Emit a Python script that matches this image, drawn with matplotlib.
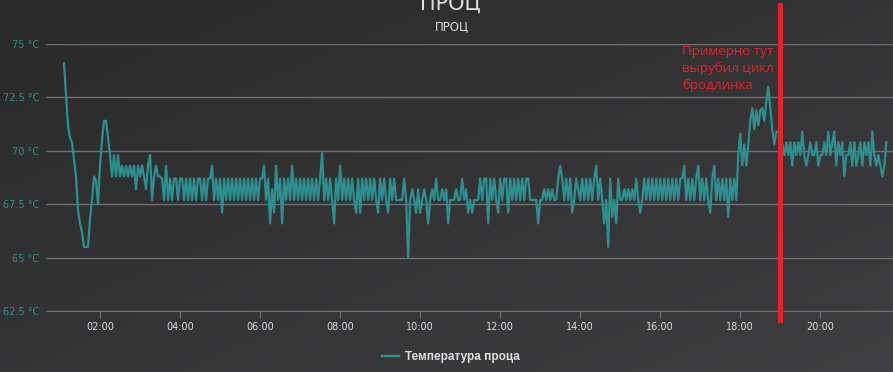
import numpy as np
import matplotlib
matplotlib.use("Agg")
import matplotlib.pyplot as plt
import matplotlib.dates as mdates

# data: CPU temperature, one reading every 3 minutes from 01:06
start_time = np.datetime64("2020-01-01T01:06")
step_min = 3

temps_a = [74.1, 72.6, 71.2, 70.6, 70.4, 69.6, 68.8, 67.2, 66.6, 66.2,
           65.5, 65.5, 65.5, 66.8, 67.7, 68.8, 68.6, 67.5, 69.3, 70.5,
           71.4, 71.4, 70.6, 69.8,
           68.8, 69.8, 68.8, 69.8, 68.8, 69.3, 68.8, 69.3, 68.8, 69.3,
           68.8, 69.3, 68.2, 69.3, 68.8, 69.3, 68.8, 68.2, 69.3, 69.8,
           67.7, 68.8, 69.3, 68.8, 68.8]
temps_b = [68.7, 67.7, 69.3, 67.7, 68.7, 67.7, 68.7, 68.7, 67.7, 68.7,
           68.7, 67.7, 68.7, 67.7, 68.7, 67.7, 68.7, 67.7, 68.7, 68.7,
           67.7, 68.7, 67.7, 68.7, 68.7, 69.3, 67.7, 68.7, 67.7, 68.7,
           67.1, 68.7, 67.7, 68.7, 67.7, 68.7, 67.7, 68.7, 67.7, 68.7,
           67.7, 68.7, 67.7, 68.7, 67.7, 68.7, 67.7, 68.7, 67.7, 68.7,
           68.7, 69.3, 67.7, 68.7, 66.6, 68.2, 67.1, 69.3, 67.7, 68.7,
           66.6, 68.7, 67.7, 68.7, 67.7, 69.3, 67.7, 68.7, 67.7, 68.7]
temps_c = [67.7, 68.7, 67.7, 68.7, 67.7, 68.7, 67.7, 68.7, 67.7, 68.7,
           69.9, 67.7, 68.7, 67.7, 68.7, 67.7, 66.6, 68.7, 67.7, 69.3,
           67.7, 68.7, 67.7, 68.7, 67.7, 68.7, 67.7, 67.1, 68.7, 67.1,
           68.7, 67.7, 68.7, 67.7, 68.7, 67.7, 68.7, 67.7, 67.1, 68.7,
           67.7, 68.7, 67.7, 67.1, 68.7, 67.7, 68.7, 67.7, 67.7, 67.7,
           67.7, 68.7, 67.7, 65.0, 67.7, 68.2, 67.7, 67.1, 68.2, 67.1,
           67.7, 68.2, 67.7, 66.6, 67.7, 68.2, 67.7, 68.7, 67.7, 67.7]
temps_d = [68.2, 67.7, 68.2, 66.6, 67.7, 67.7, 67.7, 68.2, 67.7, 67.7,
           68.7, 67.7, 68.2, 67.1, 67.7, 67.1, 67.7, 67.7, 67.7, 68.7,
           67.7, 68.7, 68.7, 66.6, 68.7, 67.7, 68.7, 67.7, 67.1, 68.7,
           67.7, 68.7, 68.7, 67.1, 68.7, 67.7, 68.7, 67.7, 68.7, 67.7,
           68.7, 67.7, 68.7, 68.7, 67.7, 67.7, 67.7, 67.7, 66.6, 67.7,
           67.7, 68.2, 67.7, 68.2, 67.7, 68.2, 67.7, 67.7, 68.7, 69.3,
           68.7, 67.7, 68.7, 67.7, 68.7, 67.1, 67.7, 68.7, 68.2, 67.7]
temps_e = [68.7, 67.7, 68.7, 67.7, 68.7, 67.7, 68.7, 69.3, 67.7, 68.7,
           67.7, 66.6, 67.7, 65.5, 68.7, 66.9, 67.7, 66.6, 68.7, 67.7,
           67.7, 68.2, 67.7, 68.2, 67.7, 68.2, 67.7, 68.7, 67.7, 67.1,
           67.7, 68.7, 67.7, 68.7, 67.7, 68.7, 67.7, 68.7, 67.7, 68.7,
           67.7, 68.7, 67.7, 68.7, 67.7, 68.7, 67.7, 68.7, 67.7, 68.7,
           68.7, 69.3, 67.7, 68.7, 67.7, 68.7, 67.7, 68.7, 69.3, 67.7,
           68.7, 67.7, 68.7, 67.7, 67.1, 68.7, 69.3, 67.7, 68.7, 67.7]
temps_f = [68.7, 67.7, 68.7, 66.9, 68.7, 67.7, 68.7, 67.7, 69.8, 70.8,
           69.3, 70.3, 69.3, 70.3, 71.4, 72.0, 71.0, 71.9, 71.2, 71.9,
           72.0, 71.4, 72.3, 73.0, 72.0, 71.0, 70.3, 70.9, 70.9, 70.9,
           70.3, 69.8, 70.4, 69.8, 70.4, 69.3, 70.4, 69.8, 70.4, 69.8,
           70.9, 69.8, 69.3, 69.8, 70.4, 69.8, 69.8, 70.4, 69.3, 69.8,
           69.8, 70.4, 69.8, 70.9, 69.8, 70.4, 70.9, 69.3, 70.4, 69.8,
           70.4, 68.8, 69.8, 69.8, 70.4, 69.3, 70.4, 69.3, 69.8, 70.4,
           69.3, 70.4, 69.8, 70.4, 69.3, 70.9, 69.8, 69.3, 69.8, 69.3,
           68.8, 69.3, 70.4]

temps = np.array(temps_a + temps_b + temps_c + temps_d + temps_e + temps_f)
times = start_time + np.arange(len(temps)) * np.timedelta64(step_min, "m")

y_ticks = [62.5, 65, 67.5, 70, 72.5, 75]
y_labels = ["62.5 °C", "65 °C", "67.5 °C", "70 °C", "72.5 °C", "75 °C"]
x_min = np.datetime64("2020-01-01T00:39")
x_max = np.datetime64("2020-01-01T21:49")
cutoff_time = np.datetime64("2020-01-01T19:00")

title = "ПРОЦ"
series_name = "Температура проца"
note = "Примерно тут\nвырубил цикл\nбродлинка"

teal = "#2b908f"
grid_c = "#707073"
text_c = "#E0E0E3"
red = "#e5232b"

fig = plt.figure(figsize=(8.93, 3.72), dpi=100)

# diagonal gradient background
bg = fig.add_axes([0, 0, 1, 1])
gx, gy = np.meshgrid(np.linspace(0, 1, 200), np.linspace(0, 1, 100))
g = (gx + gy) / 2
c0 = np.array([0x2a, 0x2a, 0x2b]) / 255
c1 = np.array([0x3e, 0x3e, 0x40]) / 255
img = c0 + (c1 - c0) * g[..., None]
bg.imshow(img, aspect="auto", extent=[0, 1, 0, 1], origin="upper")
bg.axis("off")

ax = fig.add_axes([46 / 893, 1 - 311 / 372, 1 - 46 / 893, 267 / 372])
ax.set_facecolor("none")
ax.plot(times, temps, color=teal, lw=1.6, zorder=3)

ax.set_ylim(62.5, 75)
ax.set_yticks(y_ticks)
ax.set_yticklabels(y_labels)
ax.set_xlim(x_min, x_max)
ax.xaxis.set_major_locator(mdates.HourLocator(byhour=range(2, 24, 2)))
ax.xaxis.set_major_formatter(mdates.DateFormatter("%H:%M"))

ax.grid(axis="y", color=grid_c, lw=1)
for s in ["top", "right", "left"]:
    ax.spines[s].set_visible(False)
ax.spines["bottom"].set_color(grid_c)
ax.tick_params(axis="y", length=0, pad=5, labelsize=7, labelcolor=teal)
ax.tick_params(axis="x", length=5, color=grid_c, pad=3, labelsize=7,
               labelcolor=text_c)

# red marker line and note
ax.axvline(cutoff_time, ymin=-0.034, ymax=1.146, color=red, lw=3.6,
           clip_on=False, zorder=5)
fig.text(682 / 893, 1 - 45 / 372, note, color=red, fontsize=9.6,
         va="top", ha="left", linespacing=1.35,
         family=["Open Sans", "DejaVu Sans"])

fig.text(0.504, 1 - 10 / 372, title, color=text_c, fontsize=15,
         ha="center", va="baseline")
fig.text(0.506, 1 - 30 / 372, title, color=text_c, fontsize=8.5,
         ha="center", va="baseline")

# legend
leg = fig.legend([ax.lines[0]], [series_name], loc="center",
                 bbox_to_anchor=(0.505, 1 - 357 / 372), frameon=False,
                 handlelength=1.4, handletextpad=0.5,
                 prop={"size": 8.5, "weight": "bold",
                       "family": ["Liberation Sans", "DejaVu Sans"]})
for t in leg.get_texts():
    t.set_color(text_c)

fig.savefig("out.png", dpi=100)
